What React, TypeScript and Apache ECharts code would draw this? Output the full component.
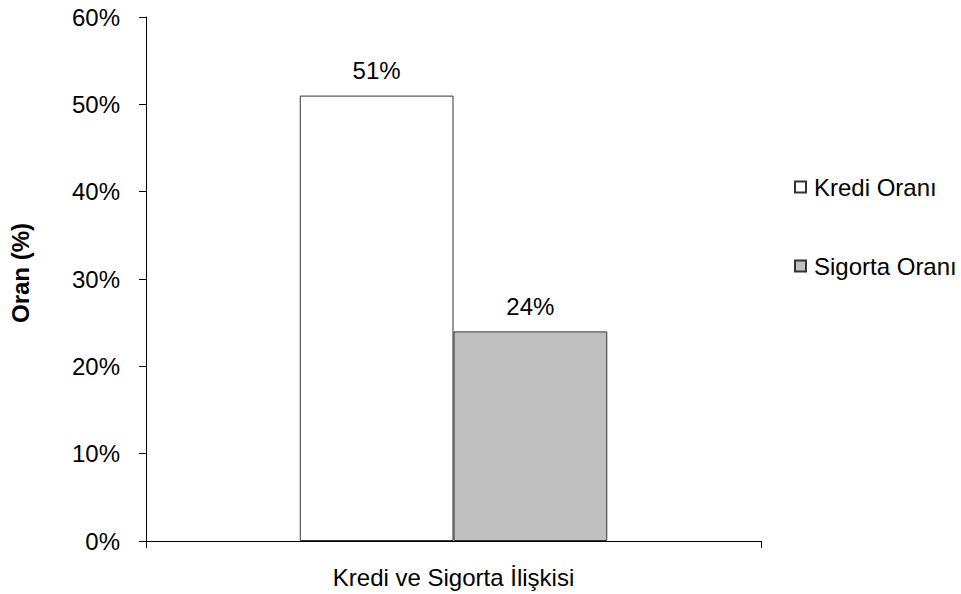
import React, { useEffect, useRef } from "react";
import * as echarts from "echarts";

const categories = ["Kredi ve Sigorta İlişkisi"];
const krediOrani = [51];
const sigortaOrani = [24];
const seriesNames = ["Kredi Oranı", "Sigorta Oranı"];
const yAxisName = "Oran (%)";

const FONT = "'Liberation Sans', Arial, sans-serif";
const FS = 24;

export default function App() {
  const ref = useRef<HTMLDivElement>(null);

  useEffect(() => {
    if (!ref.current) return;
    const chart = echarts.init(ref.current, undefined, { renderer: "svg" });
    const label = {
      show: true,
      position: "top" as const,
      distance: 13,
      color: "#000",
      fontFamily: FONT,
      fontSize: FS,
      formatter: (p: any) => `${p.value}%`,
    };
    chart.setOption({
      animation: false,
      backgroundColor: "#fff",
      textStyle: { fontFamily: FONT, color: "#000" },
      grid: { left: 144, right: 200, top: 17, bottom: 53, containLabel: false },
      legend: {
        orient: "vertical",
        left: 789,
        top: 170,
        itemGap: 55,
        itemWidth: 11,
        itemHeight: 11,
        icon: "rect",
        textStyle: { fontFamily: FONT, fontSize: FS, color: "#000", padding: [0, 0, 0, 3] },
        data: seriesNames,
      },
      xAxis: {
        type: "category",
        data: categories,
        axisLine: { lineStyle: { color: "#000", width: 1 } },
        axisTick: { show: true, length: 7, inside: false, lineStyle: { color: "#000" } },
        axisLabel: { color: "#000", fontFamily: FONT, fontSize: FS, margin: 24 },
      },
      yAxis: {
        type: "value",
        min: 0,
        max: 60,
        interval: 10,
        name: yAxisName,
        nameLocation: "middle",
        nameGap: 114,
        nameTextStyle: {
          fontFamily: FONT,
          fontSize: FS,
          fontWeight: "bold",
          color: "#000",
          padding: [0, 0, 0, 12],
        },
        axisLine: { show: true, lineStyle: { color: "#000", width: 1 } },
        axisTick: { show: true, length: 7, lineStyle: { color: "#000" } },
        splitLine: { show: false },
        axisLabel: {
          color: "#000",
          fontFamily: FONT,
          fontSize: FS,
          margin: 26,
          formatter: (v: number) => `${v}%`,
        },
      },
      series: [
        {
          name: seriesNames[0],
          type: "bar",
          data: krediOrani,
          barGap: "0%",
          barCategoryGap: "50%",
          itemStyle: { color: "#ffffff", borderColor: "#333", borderWidth: 1 },
          label,
        },
        {
          name: seriesNames[1],
          type: "bar",
          data: sigortaOrani,
          itemStyle: { color: "#c0c0c0", borderColor: "#333", borderWidth: 1 },
          label,
        },
      ],
    });
    return () => chart.dispose();
  }, []);

  return (
    <div
      ref={ref}
      style={{ position: "fixed", left: 0, top: 0, width: 961, height: 594, background: "#fff" }}
    />
  );
}
